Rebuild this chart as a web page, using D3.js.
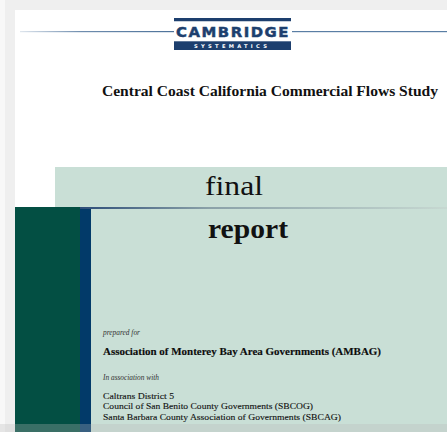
<!DOCTYPE html>
<html><head><meta charset="utf-8">
<script src="https://cdn.jsdelivr.net/npm/d3@7/dist/d3.min.js"></script>
<style>html,body{margin:0;padding:0;background:#efefef;overflow:hidden}</style>
</head><body>
<script>
// ---- content ----
const logoMain = "CAMBRIDGE";
const logoSub = "SYSTEMATICS";
const studyTitle = "Central Coast California Commercial Flows Study";
const reportWords = ["final", "report"];
const preparedLabel = "prepared for";
const clientName = "Association of Monterey Bay Area Governments (AMBAG)";
const associationLabel = "In association with";
const associates = [
  "Caltrans District 5",
  "Council of San Benito County Governments (SBCOG)",
  "Santa Barbara County Association of Governments (SBCAG)"
];

const W = 447, H = 432;
const serif = "'Liberation Serif','DejaVu Serif',serif";
const svg = d3.select("body").append("svg").attr("width", W).attr("height", H);
const defs = svg.append("defs");

const lg = defs.append("linearGradient").attr("id","rule").attr("x1","0").attr("x2","1");
lg.append("stop").attr("offset","0").attr("stop-color","#2c4d78");
lg.append("stop").attr("offset","0.35").attr("stop-color","#8aa1a8");
lg.append("stop").attr("offset","1").attr("stop-color","#c6d8d1");

const lg2 = defs.append("linearGradient").attr("id","logoLineL").attr("x1","0").attr("x2","1");
lg2.append("stop").attr("offset","0").attr("stop-color","#dfe6ee");
lg2.append("stop").attr("offset","0.4").attr("stop-color","#6f8dae");
lg2.append("stop").attr("offset","1").attr("stop-color","#4d729a");

// background
svg.append("rect").attr("width",W).attr("height",H).attr("fill","#efefef");
svg.append("rect").attr("width",5).attr("height",H).attr("fill","#f8f8f8");
svg.append("rect").attr("x",15).attr("y",10).attr("width",W-15).attr("height",H-10).attr("fill","#ffffff");

// logo rule
svg.append("rect").attr("x",20).attr("y",31).attr("width",154).attr("height",1.2).attr("fill","url(#logoLineL)");
svg.append("rect").attr("x",292).attr("y",31).attr("width",W-292).attr("height",1.2).attr("fill","#5a7ea4");

// logo
const logo = svg.append("g");
const lx = 174, lw = 117;
logo.append("rect").attr("x",lx).attr("y",18).attr("width",lw).attr("height",3.5).attr("fill","#1d3f6e");
logo.append("rect").attr("x",lx).attr("y",21.5).attr("width",lw).attr("height",19.8).attr("fill","#ffffff");
logo.append("rect").attr("x",lx).attr("y",41.3).attr("width",lw).attr("height",8.7).attr("fill","#1d3f6e");
logo.append("text").text(logoMain).attr("x",lx+2).attr("y",37.4)
  .attr("font-family","'DejaVu Sans',sans-serif").attr("font-weight","bold").attr("font-size",14.6)
  .attr("letter-spacing",1.5).attr("stroke","#1d3f6e").attr("stroke-width",0.5)
  .attr("fill","#1d3f6e").attr("textLength",lw-3).attr("lengthAdjust","spacingAndGlyphs");
logo.append("text").text(logoSub).attr("x",194).attr("y",47.6)
  .attr("font-family","'DejaVu Sans',sans-serif").attr("font-weight","bold").attr("font-size",5.2)
  .attr("fill","#ffffff").attr("textLength",73).attr("lengthAdjust","spacing");

// study title
svg.append("text").text(studyTitle).attr("x",102).attr("y",96)
  .attr("font-family",serif).attr("font-weight","bold").attr("font-size",14.5).attr("fill","#111")
  .attr("textLength",336).attr("lengthAdjust","spacingAndGlyphs");

// bands
svg.append("rect").attr("x",55).attr("y",167).attr("width",W-55).attr("height",41).attr("fill","#c9dfd6");
svg.append("rect").attr("x",15).attr("y",207).attr("width",65).attr("height",H-207).attr("fill","#034f43");
svg.append("rect").attr("x",80).attr("y",207).attr("width",11).attr("height",H-207).attr("fill","#023a69");
svg.append("rect").attr("x",91).attr("y",209).attr("width",W-91).attr("height",H-209).attr("fill","#c9dfd6");
svg.append("rect").attr("x",80).attr("y",207).attr("width",W-80).attr("height",2).attr("fill","url(#rule)");

// final / report
svg.append("g").selectAll("text").data(reportWords).join("text")
  .text(d=>d).attr("text-anchor","middle")
  .attr("x",(d,i)=>[234,248][i]).attr("y",(d,i)=>[195,238][i])
  .attr("font-family",serif).attr("font-size",28)
  .attr("font-weight",(d,i)=>i?"bold":"normal").attr("fill","#111")
  .attr("textLength",(d,i)=>[58,80][i]).attr("lengthAdjust","spacingAndGlyphs");

// prepared for block
const tx = 103;
svg.append("text").text(preparedLabel).attr("x",tx).attr("y",335)
  .attr("font-family",serif).attr("font-style","italic").attr("font-size",7.6).attr("fill","#333")
  .attr("textLength",37).attr("lengthAdjust","spacingAndGlyphs");
svg.append("text").text(clientName).attr("x",tx).attr("y",355)
  .attr("font-family",serif).attr("font-weight","bold").attr("font-size",11).attr("fill","#0d0d0d")
  .attr("stroke","#0d0d0d").attr("stroke-width",0.15)
  .attr("textLength",278).attr("lengthAdjust","spacingAndGlyphs");
svg.append("text").text(associationLabel).attr("x",tx).attr("y",379.5)
  .attr("font-family",serif).attr("font-style","italic").attr("font-size",7.6).attr("fill","#333")
  .attr("textLength",56).attr("lengthAdjust","spacingAndGlyphs");

const yList = d3.scaleLinear().domain([0, associates.length-1]).range([398.5, 420]);
const assocWidths = [71, 210, 238];
svg.append("g").selectAll("text").data(associates).join("text")
  .text(d=>d).attr("x",tx).attr("y",(d,i)=>yList(i))
  .attr("font-family",serif).attr("font-size",9).attr("fill","#111")
  .attr("stroke","#111").attr("stroke-width",0.12)
  .attr("textLength",(d,i)=>assocWidths[i]).attr("lengthAdjust","spacingAndGlyphs");

// bottom haze
svg.append("rect").attr("x",0).attr("y",424).attr("width",W).attr("height",H-424).attr("fill","#b8b8b8").attr("opacity",0.3);
</script>
</body></html>
